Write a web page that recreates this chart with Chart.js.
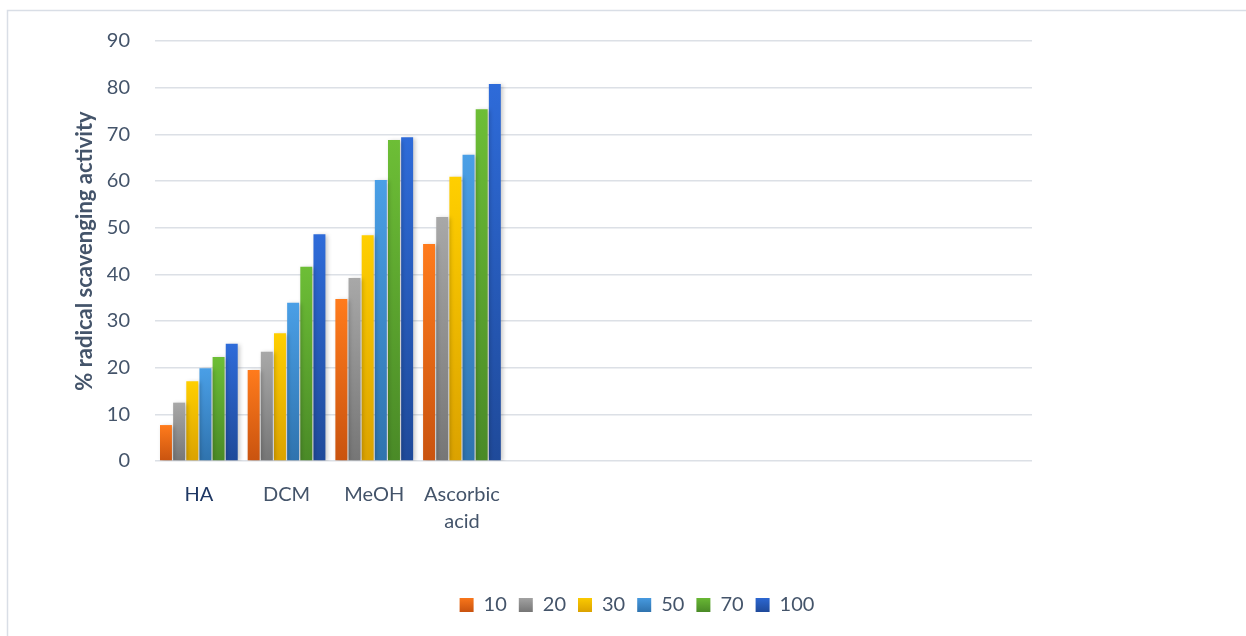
<!DOCTYPE html>
<html>
<head>
<meta charset="utf-8">
<script src="https://cdn.jsdelivr.net/npm/chart.js@4.4.1/dist/chart.umd.min.js"></script>
<style>
  html, body { margin: 0; padding: 0; background: #ffffff; }
  #wrap { width: 1246px; height: 636px; position: relative; }
</style>
</head>
<body>
<div id="wrap"><canvas id="chart" width="1246" height="636"></canvas></div>
<script>
// Extract categories (the remaining slots on the axis are left empty)
const categories = ['HA', 'DCM', 'MeOH', ['Ascorbic', 'acid'], '', '', '', '', '', ''];

// Concentration series (µg/mL) – % radical scavenging activity per extract
const seriesNames = ['10', '20', '30', '50', '70', '100'];
const values10  = [7.7, 19.5, 34.7, 46.5];
const values20  = [12.5, 23.4, 39.2, 52.3];
const values30  = [17.1, 27.4, 48.4, 60.9];
const values50  = [19.9, 33.9, 60.2, 65.6];
const values70  = [22.3, 41.6, 68.8, 75.4];
const values100 = [25.1, 48.6, 69.4, 80.8];

const yTicks = [0, 10, 20, 30, 40, 50, 60, 70, 80, 90];

// top / bottom colours for each bar gradient
const barColors = [
  ['#FF7B1C', '#C9530F'],
  ['#A8A8A8', '#767676'],
  ['#FFCF00', '#DBA200'],
  ['#4A9FE6', '#2F73AE'],
  ['#6DBE36', '#4A8A27'],
  ['#2E6BD9', '#1F4A9A']
];

const seriesValues = [values10, values20, values30, values50, values70, values100];

// vertical gradient spanning each individual bar
function gradientFor(idx) {
  return function (context) {
    const chart = context.chart;
    const yScale = chart.scales && chart.scales.y;
    if (!chart.chartArea || !yScale || context.raw == null) return barColors[idx][0];
    const top = yScale.getPixelForValue(context.raw);
    const base = yScale.getPixelForValue(0);
    const g = chart.ctx.createLinearGradient(0, top, 0, base);
    g.addColorStop(0, barColors[idx][0]);
    g.addColorStop(1, barColors[idx][1]);
    return g;
  };
}

const datasets = seriesNames.map((name, i) => ({
  label: name,
  data: seriesValues[i],
  backgroundColor: gradientFor(i),
  borderWidth: 0,
  categoryPercentage: 0.9,
  barPercentage: 0.91
}));

// frame around the whole chart
const framePlugin = {
  id: 'frame',
  beforeDraw(chart) {
    const ctx = chart.ctx;
    ctx.save();
    ctx.fillStyle = '#ffffff';
    ctx.fillRect(0, 0, chart.width, chart.height);
    ctx.strokeStyle = '#D9DEE6';
    ctx.lineWidth = 1.5;
    ctx.strokeRect(7.5, 10.5, chart.width + 10, chart.height + 10);
    ctx.restore();
  }
};

// centre the legend on the full canvas width rather than the padded area
const legendCenterPlugin = {
  id: 'legendCenter',
  afterLayout(chart) {
    const lg = chart.legend;
    if (!lg) return;
    lg.left = 14;
    lg.right = chart.width + 14;
    lg.width = chart.width;
  }
};

// soft drop shadow behind bars
const shadowPlugin = {
  id: 'barShadow',
  beforeDatasetsDraw(chart) {
    const ctx = chart.ctx;
    ctx.save();
    ctx.shadowColor = 'rgba(0,0,0,0.22)';
    ctx.shadowBlur = 4;
    ctx.shadowOffsetX = 2;
    ctx.shadowOffsetY = 1;
  },
  afterDatasetsDraw(chart) {
    chart.ctx.restore();
  }
};

const textColor = '#44546A';

new Chart(document.getElementById('chart'), {
  type: 'bar',
  data: { labels: categories, datasets },
  plugins: [framePlugin, legendCenterPlugin, shadowPlugin],
  options: {
    responsive: false,
    animation: false,
    devicePixelRatio: 1,
    layout: { padding: { top: 41, left: 60, right: 214, bottom: 11 } },
    plugins: {
      tooltip: { enabled: false },
      legend: {
        position: 'bottom',
        labels: {
          boxWidth: 14,
          boxHeight: 14,
          padding: 12,
          color: textColor,
          font: { family: 'Lato', size: 20 },
          generateLabels(chart) {
            return chart.data.datasets.map((ds, i) => {
              const ctx = chart.ctx;
              const g = ctx.createLinearGradient(0, 596, 0, 612);
              g.addColorStop(0, barColors[i][0]);
              g.addColorStop(1, barColors[i][1]);
              return {
                text: ds.label,
                fillStyle: g,
                strokeStyle: 'rgba(0,0,0,0)',
                lineWidth: 0,
                fontColor: textColor,
                datasetIndex: i,
                hidden: false
              };
            });
          }
        }
      }
    },
    scales: {
      x: {
        grid: { display: false, drawTicks: false },
        border: { display: false },
        ticks: {
          autoSkip: false,
          maxRotation: 0,
          minRotation: 0,
          padding: 20,
          color: (c) => (c.index === 0 ? '#1F3864' : textColor),
          font: { family: 'Lato', size: 20, lineHeight: 1.35 }
        },
        afterFit(scale) { scale.height = 122; }
      },
      y: {
        min: 0,
        max: 90,
        afterBuildTicks(scale) { scale.ticks = yTicks.map(v => ({ value: v })); },
        grid: { color: '#DCE0E6', lineWidth: 1.5, drawTicks: false },
        border: { display: false },
        ticks: {
          padding: 25,
          color: textColor,
          font: { family: 'Lato', size: 20 }
        },
        title: {
          display: true,
          text: '% radical scavenging activity',
          color: textColor,
          font: { family: 'Lato', size: 22, weight: 'bold' },
          padding: { top: 12, bottom: 0 }
        },
        afterFit(scale) { scale.width = 95; }
      }
    }
  }
});
</script>
</body>
</html>
